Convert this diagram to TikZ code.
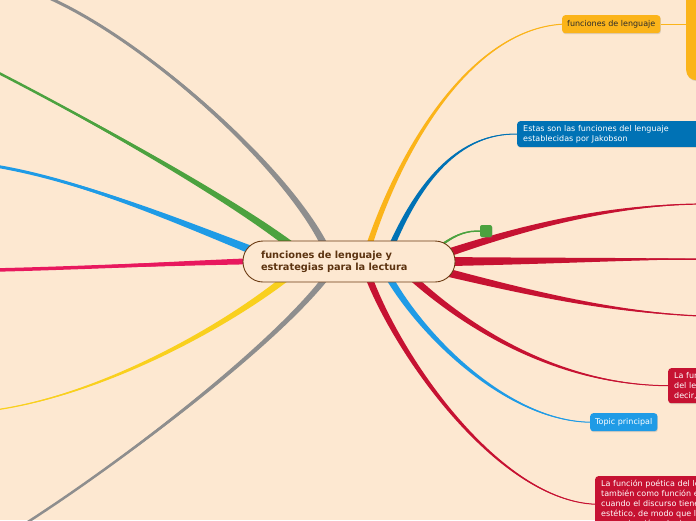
\documentclass[tikz,border=0pt]{standalone}
\usepackage{fontspec}
\setmainfont{DejaVu Sans}
\usetikzlibrary{calc, shadows, backgrounds}

\definecolor{peach}{HTML}{FDE8D1}
\definecolor{rootline}{HTML}{6B3A12}
\definecolor{roottext}{HTML}{5C3310}
\definecolor{orangeT}{HTML}{FBB41A}
\definecolor{darkblueT}{HTML}{0072B5}
\definecolor{lightblueT}{HTML}{1F9BE6}
\definecolor{redT}{HTML}{C61232}
\definecolor{pinkT}{HTML}{E8185E}
\definecolor{yellowT}{HTML}{F9D01E}
\definecolor{greenT}{HTML}{4CA23F}
\definecolor{grayT}{HTML}{8E8E8E}
\definecolor{darktext}{HTML}{2B2B2B}

% tapered branch: colour, start, control 1, control 2, end, half width at start (pt), width at end
\newcommand{\branch}[7]{%
  \coordinate (bs) at ($(#2)!-7pt!(#3)$);
  \fill[#1] ($(bs)!#6pt!90:(#3)$)
     .. controls ($(#3)!0.667*#6pt!90:(#4)$) and ($(#4)!0.333*#6pt!90:(#5)$) .. (#5)
     .. controls ($(#4)!0.333*#6pt!-90:(#5)$) and ($(#3)!0.667*#6pt!-90:(#4)$)
     .. ($(bs)!#6pt!-90:(#3)$) -- cycle;
  \draw[#1, line width=#7] (bs) .. controls (#3) and (#4) .. (#5);}

\begin{document}
\begin{tikzpicture}[x=1pt, y=-1pt,
    root/.style={rectangle, rounded corners=20pt, draw=rootline, fill=peach,
                 line width=0.9pt, text width=176pt, inner xsep=18pt, inner ysep=0pt,
                 minimum height=41pt, align=left, text=roottext,
                 font=\fontsize{9.8}{12}\selectfont\bfseries},
    topic/.style={rectangle, rounded corners=3pt, inner xsep=5pt, inner ysep=4pt,
                  align=left, font=\fontsize{8}{10}\selectfont,
                  drop shadow={shadow xshift=0.6pt, shadow yshift=-1pt, opacity=0.25}}
]
\useasboundingbox (0,0) rectangle (696,520);
\clip (0,0) rectangle (696,520);

% central topic
\node[root] (center) at (349,261.5) {funciones de lenguaje y\\estrategias para la lectura};

% subtopics on the right
\node[topic, fill=orangeT, text=darktext, anchor=north west, minimum height=18pt] (lenguaje) at (562,15) {funciones de lenguaje};
\node[topic, fill=orangeT, anchor=north west, minimum width=40pt, minimum height=92pt, rounded corners=10pt] (funciones) at (686,-12) {};
\node[topic, fill=darkblueT, text=white, anchor=north west, text width=185pt, inner xsep=6pt] (jakobson) at (517,121) {Estas son las funciones del lenguaje\\establecidas por Jakobson};
\node[topic, fill=greenT, minimum size=12pt, inner sep=0pt, rounded corners=2pt] (nota) at (486,231) {};
\node[topic, fill=lightblueT, text=white, anchor=north west, minimum height=18pt] (principal) at (590,413) {Topic principal};
\node[topic, fill=redT, text=white, anchor=north west, text width=60pt, inner xsep=6pt] (lafuncion) at (668,368) {La fun\\del le\\decir,};
\node[topic, fill=redT, text=white, anchor=north west, text width=170pt, inner xsep=6pt] (poetica) at (595,476) {La función poética del le\\también como función e\\cuando el discurso tiene\\estético, de modo que la\\comunicación adquiere};

% free ends outside the picture
\coordinate (grayTop) at (40,-6);
\coordinate (greenEnd) at (-5,71);
\coordinate (blueEnd) at (-5,166);
\coordinate (pinkEnd) at (-5,270);
\coordinate (yellowEnd) at (-5,410);
\coordinate (grayBottom) at (20,527);
\coordinate (redA) at (700,204);
\coordinate (redB) at (700,259);
\coordinate (redC) at (700,316);

\draw[orangeT, line width=1pt] (lenguaje.east) -- (lenguaje.east -| funciones.west);

\begin{scope}[on background layer]
\clip (0,0) rectangle (696,520);
\fill[peach] (0,0) rectangle (696,520);
% left side
\branch{grayT}{center.142}{285,165}{140,35}{grayTop}{3.5}{3pt}
\branch{greenT}{center.162}{230,199}{100,125}{greenEnd}{4}{2.5pt}
\branch{lightblueT}{center.172}{180,222}{80,180}{blueEnd}{4}{3pt}
\branch{pinkT}{center.180}{160,264}{80,268}{pinkEnd}{3}{3.5pt}
\branch{yellowT}{center.197}{220,330}{100,395}{yellowEnd}{3.5}{1.2pt}
\branch{grayT}{center.218}{270,350}{110,470}{grayBottom}{3}{2.5pt}
% right side
\branch{orangeT}{center.44}{400,150}{470,30}{lenguaje.west}{3}{1pt}
\branch{darkblueT}{center.25}{420,180}{460,133}{jakobson.west}{3}{1pt}
\branch{greenT}{center.12}{458,233}{468,231}{nota.west}{1.2}{1.5pt}
\branch{redT}{center.6}{540,222}{620,205}{redA}{4}{1.2pt}
\branch{redT}{center.0}{550,261}{620,259}{redB}{4.5}{1.5pt}
\branch{redT}{center.353}{530,293}{610,312}{redC}{4}{1.2pt}
\branch{redT}{center.343}{470,330}{560,385}{lafuncion.west}{3.5}{1pt}
\branch{lightblueT}{center.334}{425,340}{510,421}{principal.west}{3.5}{1pt}
\branch{redT}{center.316}{400,360}{500,500}{poetica.west}{3.5}{1pt}
\end{scope}
\end{tikzpicture}
\end{document}
